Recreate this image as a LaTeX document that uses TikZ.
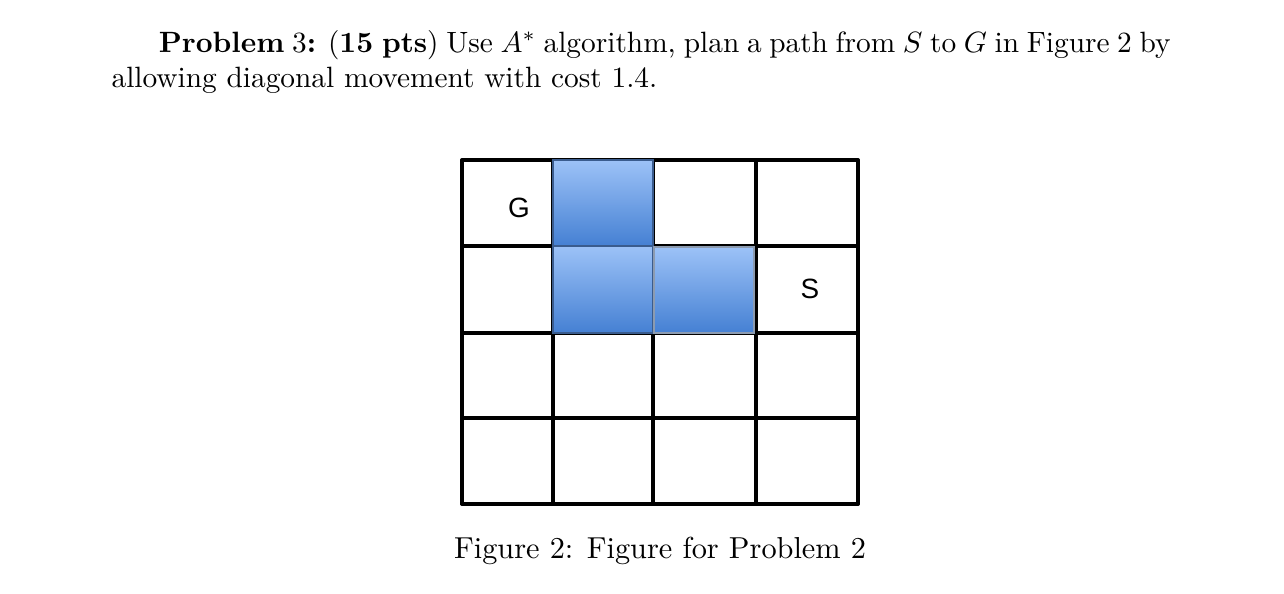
\documentclass[tikz,border=0pt]{standalone}
\usepackage{fontspec}
\newfontfamily\cellfont{Liberation Sans}
\definecolor{bluetop}{HTML}{9CC2F7}
\definecolor{bluebot}{HTML}{4580D3}
\definecolor{blueedge}{HTML}{3A5C8E}
\definecolor{greyedge}{HTML}{8C9BB0}
\begin{document}
\begin{tikzpicture}[x=0.3406pt,y=-0.3406pt,
  gridline/.style={line width=1.2pt,line cap=round},
  obstacle/.style={top color=bluetop,bottom color=bluebot,draw=blueedge,line width=0.4pt},
  celltext/.style={font=\cellfont\fontsize{9.5}{11}\selectfont,inner sep=0pt}]
\useasboundingbox (0,0) rectangle (1284,593);
% problem text
\node[anchor=base west,inner sep=0pt] (problem) at (111,52) {\parbox[t]{360.7pt}{\fontsize{10}{12.2}\selectfont
\hspace*{16.1pt}\textbf{Problem} 3\textbf{:} (\textbf{15 pts}) Use $A^*$ algorithm, plan a path from $S$ to $G$ in Figure 2 by\linebreak
allowing diagonal movement with cost 1.4.}};
% grid
\foreach \x in {462,553,653,756,858} \draw[gridline] (\x,160) -- (\x,504);
\foreach \y in {160,246,333,418,504} \draw[gridline] (462,\y) -- (858,\y);
% obstacles
\fill[obstacle] (553,160) rectangle (653,246);
\fill[obstacle] (553,246) rectangle (653,333);
\fill[obstacle,draw=greyedge] (654,247) rectangle (754,333);
% labels
\node[celltext] (G) at (519,208) {G};
\node[celltext] (S) at (810,289) {S};
% caption
\node[anchor=base,inner sep=0pt] (caption) at (660,558) {\fontsize{10.33}{12}\selectfont Figure 2: Figure for Problem 2};
\end{tikzpicture}
\end{document}
